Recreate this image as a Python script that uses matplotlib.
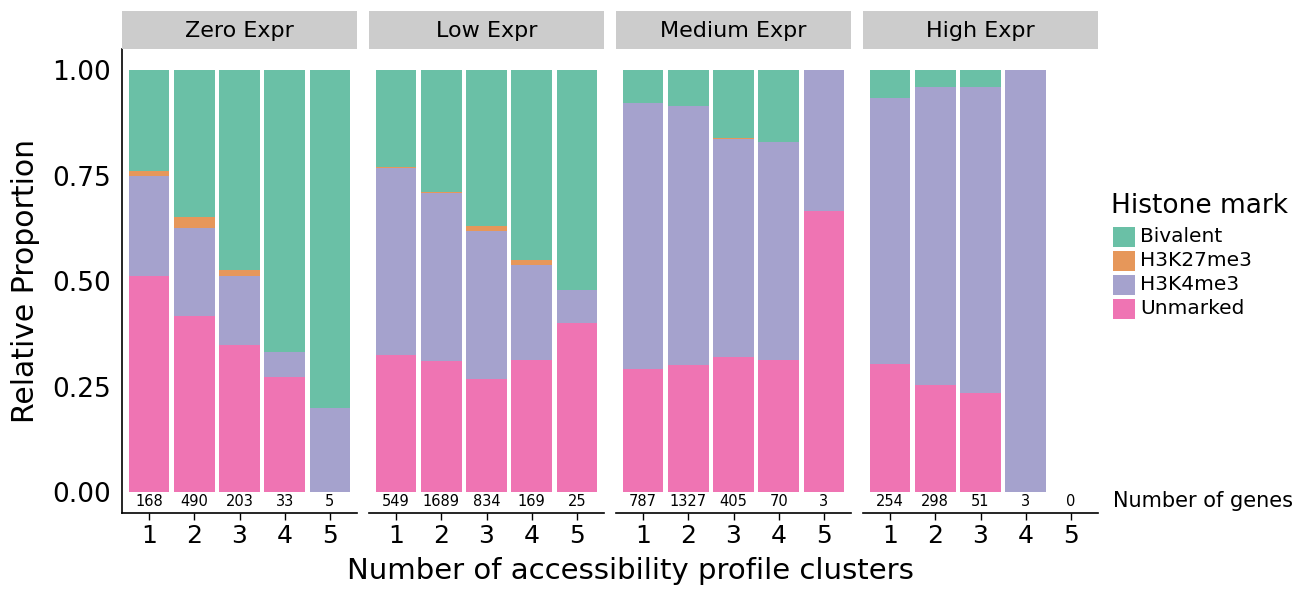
import numpy as np
import matplotlib.pyplot as plt
from matplotlib.patches import Rectangle

plt.rcParams['font.family'] = ['DejaVu Sans']

# gene counts per histone mark, one list per expression group (clusters 1..5)
groups = ['Zero Expr', 'Low Expr', 'Medium Expr', 'High Expr']
clusters = [1, 2, 3, 4, 5]
n_genes = [[168, 490, 203, 33, 5],
           [549, 1689, 834, 169, 25],
           [787, 1327, 405, 70, 3],
           [254, 298, 51, 3, 0]]
unmarked = [[86, 205, 71, 9, 0],
            [179, 525, 224, 53, 10],
            [230, 400, 130, 22, 2],
            [77, 76, 12, 0, 0]]
h3k4me3 = [[40, 102, 33, 2, 1],
           [243, 671, 293, 38, 2],
           [495, 813, 209, 36, 1],
           [160, 210, 37, 3, 0]]
h3k27me3 = [[2, 12, 3, 0, 0],
            [1, 7, 8, 2, 0],
            [0, 0, 1, 0, 0],
            [0, 0, 0, 0, 0]]
bivalent = [[40, 171, 96, 22, 4],
            [126, 486, 309, 76, 13],
            [62, 114, 65, 12, 0],
            [17, 12, 2, 0, 0]]

marks = ['Unmarked', 'H3K4me3', 'H3K27me3', 'Bivalent']
mark_counts = [unmarked, h3k4me3, h3k27me3, bivalent]
legend_order = ['Bivalent', 'H3K27me3', 'H3K4me3', 'Unmarked']
# Dark2 at alpha 0.65
colors = {'Bivalent': '#1B9E77', 'H3K27me3': '#D95F02',
          'H3K4me3': '#7570B3', 'Unmarked': '#E7298A'}
alpha = 0.65

W, H = 1301, 589
fig = plt.figure(figsize=(W / 100, H / 100), dpi=100)

px_left = [122, 369, 616, 863]
pw = 235
top, bottom = 48.5, 513
strip_top = 11

for g, name in enumerate(groups):
    ax = fig.add_axes([px_left[g] / W, (H - bottom) / H, pw / W, (bottom - top) / H])
    tot = np.array(n_genes[g], dtype=float)
    safe = np.where(tot > 0, tot, 1)
    base = np.zeros(len(clusters))
    for m, cnt in zip(marks, mark_counts):
        frac = np.array(cnt[g]) / safe
        ax.bar(clusters, frac, bottom=base, width=0.9, color=colors[m],
               alpha=alpha, linewidth=0)
        base += frac
    for x, n in zip(clusters, n_genes[g]):
        ax.text(x, -0.022, str(n), ha='center', va='center', fontsize=10.5)

    ax.set_xlim(0.4, 5.6)
    ax.set_ylim(-0.049, 1.051)
    ax.set_xticks(clusters)
    ax.set_xticklabels([str(c) for c in clusters])
    ax.tick_params(axis='x', length=5, width=1, pad=3, labelsize=18)
    for s in ['top', 'right']:
        ax.spines[s].set_visible(False)
    ax.spines['bottom'].set_linewidth(1.2)
    if g == 0:
        ax.set_yticks([0, 0.25, 0.5, 0.75, 1.0])
        ax.set_yticklabels(['0.00', '0.25', '0.50', '0.75', '1.00'])
        ax.tick_params(axis='y', length=0, pad=8, labelsize=19)
        ax.spines['left'].set_linewidth(1.2)
    else:
        ax.set_yticks([])
        ax.spines['left'].set_visible(False)

    # facet strip
    sax = fig.add_axes([px_left[g] / W, (H - top) / H, pw / W, (top - strip_top) / H])
    sax.set_facecolor('#CCCCCC')
    sax.set_xticks([])
    sax.set_yticks([])
    for s in sax.spines.values():
        s.set_visible(False)
    sax.text(0.5, 0.47, name, ha='center', va='center', fontsize=16,
             transform=sax.transAxes)

fig.text(26 / W, 1 - 281 / H, 'Relative Proportion', rotation=90,
         ha='center', va='center', fontsize=21.5)
fig.text(630 / W, 1 - 571 / H, 'Number of accessibility profile clusters',
         ha='center', va='center', fontsize=21)
fig.text(1113 / W, 1 - 501 / H, 'Number of genes', ha='left', va='center',
         fontsize=15)

# legend drawn on a pixel-space overlay
lax = fig.add_axes([0, 0, 1, 1], zorder=-1)
lax.set_xlim(0, W)
lax.set_ylim(H, 0)
lax.axis('off')
lax.text(1111, 206, 'Histone mark', ha='left', va='center', fontsize=19)
for i, m in enumerate(legend_order):
    yc = 236.5 + 24 * i
    lax.add_patch(Rectangle((1113, yc - 10), 22, 20, facecolor=colors[m],
                            alpha=alpha, linewidth=0))
    lax.text(1140, yc, m, ha='left', va='center', fontsize=14.5)

fig.savefig('out.png', dpi=100)
